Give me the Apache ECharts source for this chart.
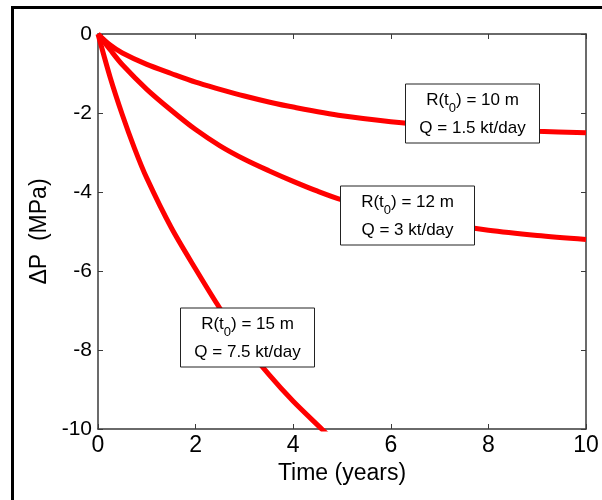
<!DOCTYPE html>
<html>
<head>
<meta charset="utf-8">
<script src="https://cdn.jsdelivr.net/npm/echarts@6/dist/echarts.min.js"></script>
<style>html,body{margin:0;padding:0;background:#fff;}#c{width:602px;height:500px;}</style>
</head>
<body>
<div id="c"></div>
<script>
// ---- data ----
const time1 = [0, 0.25, 0.5, 1, 1.5, 2, 2.5, 3, 3.5, 4, 5, 6, 7, 8, 9, 10];
const dp1   = [0, -0.28, -0.48, -0.77, -1.0, -1.22, -1.4, -1.57, -1.72, -1.85, -2.07, -2.22, -2.33, -2.41, -2.46, -2.5];
const time2 = [0, 0.25, 0.5, 1, 1.5, 2, 2.5, 3, 3.5, 4, 4.5, 5, 6, 7, 8, 9, 10];
const dp2   = [0, -0.4, -0.78, -1.4, -1.93, -2.42, -2.83, -3.17, -3.46, -3.73, -3.98, -4.2, -4.53, -4.78, -4.97, -5.1, -5.2];
const time3 = [0, 0.25, 0.5, 0.75, 1, 1.5, 2, 2.5, 3, 3.5, 4, 4.6, 4.7];
const dp3   = [0, -1.1, -2.05, -2.9, -3.65, -4.9, -5.95, -6.95, -7.85, -8.62, -9.3, -10.02, -10.14];

const boxRadius = ['10', '12', '15'];
const boxRate = ['1.5', '3', '7.5'];
const boxT  = [7.66, 6.34, 3.05];
const boxDP = [-1.99, -4.59, -7.66];

const xTitle = 'Time (years)';
const yTitle = '\u0394P  (MPa)';

const FONT = '"Liberation Sans", Arial, Helvetica, sans-serif';
const AX = '#3a3a3a';

function pairs(xs, ys) { return xs.map((x, i) => [x, ys[i]]); }

const chart = echarts.init(document.getElementById('c'), null, {renderer: 'canvas'});

const lineSeries = (d) => ({
  type: 'line', data: d, xAxisIndex: 0, yAxisIndex: 0,
  symbol: 'none', smooth: 0.3, clip: true,
  lineStyle: {color: '#ff0000', width: 5}, z: 2
});

const commonTick = {show: true, inside: true, length: 5, lineStyle: {color: AX, width: 1}};

chart.setOption({
  backgroundColor: '#fff',
  animation: false,
  grid: {left: 98, right: 16, top: 34, bottom: 71, containLabel: false},
  xAxis: [
    {type: 'value', min: 0, max: 10, interval: 2, position: 'bottom',
     axisLine: {show: true, onZero: false, lineStyle: {color: AX, width: 1.5}},
     axisTick: commonTick, splitLine: {show: false},
     axisLabel: {color: '#000', fontSize: 23, fontFamily: FONT, margin: 5},
     name: xTitle, nameLocation: 'middle', nameGap: 29,
     nameTextStyle: {color: '#000', fontSize: 23, fontFamily: FONT}},
    {type: 'value', min: 0, max: 10, interval: 2, position: 'top',
     axisLine: {show: true, onZero: false, lineStyle: {color: AX, width: 1.5}},
     axisTick: commonTick, splitLine: {show: false}, axisLabel: {show: false}}
  ],
  yAxis: [
    {type: 'value', min: -10, max: 0, interval: 2, position: 'left',
     axisLine: {show: true, onZero: false, lineStyle: {color: AX, width: 1.5}},
     axisTick: commonTick, splitLine: {show: false},
     axisLabel: {color: '#000', fontSize: 21, fontFamily: FONT, margin: 6},
     name: yTitle, nameLocation: 'middle', nameGap: 42, nameRotate: 90,
     nameTextStyle: {color: '#000', fontSize: 23, fontFamily: FONT}},
    {type: 'value', min: -10, max: 0, interval: 2, position: 'right',
     axisLine: {show: true, onZero: false, lineStyle: {color: AX, width: 1.5}},
     axisTick: commonTick, splitLine: {show: false}, axisLabel: {show: false}}
  ],
  series: [lineSeries(pairs(time1, dp1)), lineSeries(pairs(time2, dp2)), lineSeries(pairs(time3, dp3))]
});

function buildGraphics() {
  const els = [];
  // outer frame (left and top edges visible)
  els.push({type: 'rect', z: 200, silent: true,
    shape: {x: 12.5, y: 7.5, width: 600, height: 500},
    style: {fill: 'none', stroke: '#000', lineWidth: 3}});
  for (let i = 0; i < boxT.length; i++) {
    const p = chart.convertToPixel({xAxisIndex: 0, yAxisIndex: 0}, [boxT[i], boxDP[i]]);
    els.push({type: 'group', x: Math.round(p[0]) + 0.5, y: Math.round(p[1]) + 0.5, z: 100,
      children: [
        {type: 'rect', z: 100, shape: {x: -67, y: -29.5, width: 134, height: 59},
         style: {fill: '#fff', stroke: '#222', lineWidth: 1}},
        {type: 'text', z: 101, x: 0, y: 1,
         style: {
           text: '{n|R(t}{s|0}{n|) = ' + boxRadius[i] + ' m}\n{n|Q = ' + boxRate[i] + ' kt/day}',
           align: 'center', verticalAlign: 'middle',
           rich: {
             n: {fontSize: 17, fontFamily: FONT, fill: '#000', lineHeight: 28},
             s: {fontSize: 13, fontFamily: FONT, fill: '#000', lineHeight: 18, verticalAlign: 'bottom'}
           }
         }}
      ]});
  }
  chart.setOption({graphic: {elements: els}});
}
buildGraphics();
</script>
</body>
</html>
